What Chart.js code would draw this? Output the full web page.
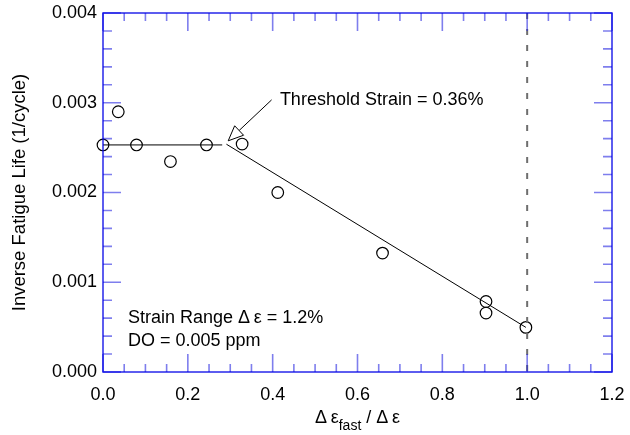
<!DOCTYPE html>
<html>
<head>
<meta charset="utf-8">
<script src="https://cdn.jsdelivr.net/npm/chart.js@4.4.1/dist/chart.umd.min.js"></script>
<style>
  html, body { margin: 0; padding: 0; background: #fff; }
  #wrap { width: 630px; height: 435px; }
</style>
</head>
<body>
<div id="wrap"><canvas id="fatigueChart" width="630" height="435"></canvas></div>
<script>
// Данные
const ratioFast = [0.0, 0.036, 0.079, 0.159, 0.244, 0.328, 0.412, 0.659, 0.903, 0.903, 0.997];
const inverseLife = [0.00253, 0.00290, 0.00253, 0.002345, 0.00253, 0.00254, 0.00200, 0.001325, 0.000786, 0.000657, 0.000497];

// Линии аппроксимации
const flatFitX = [0.0, 0.281];
const flatFitY = [0.00253, 0.00253];
const slopeFitX = [0.291, 0.997];
const slopeFitY = [0.002538, 0.000497];

// Вертикальная пунктирная линия при Δε_fast/Δε = 1
const fullFastX = [1.0, 1.0];
const fullFastY = [0.004, 0.0];

// Стрелка-указатель порога (хвост -> острие)
const arrowTail = [0.3975, 0.003032];
const arrowTip = [0.2952, 0.002576];

// Подписи
const thresholdLabel = 'Threshold Strain = 0.36%';
const noteLines = ['Strain Range \u0394\u2009\u03B5 = 1.2%', 'DO = 0.005 ppm'];
const yTitle = 'Inverse Fatigue Life (1/cycle)';

const FONT = "'Liberation Sans', Arial, Helvetica, sans-serif";
const AXIS_BLUE = 'rgba(0, 0, 230, 0.85)';
const TICK_BLUE = 'rgba(40, 40, 225, 0.6)';

const toXY = (xs, ys) => xs.map((x, i) => ({ x: x, y: ys[i] }));

// Рамка с тиками внутрь по всем четырём сторонам
const framePlugin = {
    id: 'frame',
    afterDatasetsDraw(chart) {
        const { ctx, chartArea: a, scales: { x, y } } = chart;
        ctx.save();
        ctx.strokeStyle = TICK_BLUE;
        ctx.lineWidth = 1.6;
        ctx.beginPath();
        for (let i = 0; i <= 24; i++) {
            const px = x.getPixelForValue(i * 0.05);
            const len = i % 4 === 0 ? 18 : 8;
            ctx.moveTo(px, a.bottom); ctx.lineTo(px, a.bottom - len);
            ctx.moveTo(px, a.top); ctx.lineTo(px, a.top + len);
        }
        for (let i = 0; i <= 20; i++) {
            const py = y.getPixelForValue(i * 0.0002);
            const len = i % 5 === 0 ? 18 : 9;
            ctx.moveTo(a.left, py); ctx.lineTo(a.left + len, py);
            ctx.moveTo(a.right, py); ctx.lineTo(a.right - len, py);
        }
        ctx.stroke();
        ctx.strokeStyle = AXIS_BLUE;
        ctx.lineWidth = 1.5;
        ctx.strokeRect(a.left, a.top, a.right - a.left, a.bottom - a.top);
        ctx.restore();
    }
};

// Надписи, стрелка и подпись оси X с индексом
const notesPlugin = {
    id: 'notes',
    afterDraw(chart) {
        const { ctx, chartArea: a, scales: { x, y } } = chart;
        ctx.save();
        ctx.fillStyle = '#000';
        ctx.textBaseline = 'alphabetic';
        ctx.textAlign = 'left';
        ctx.font = '18px ' + FONT;

        ctx.fillText(thresholdLabel, x.getPixelForValue(0.417), y.getPixelForValue(0.002977));
        ctx.fillText(noteLines[0], x.getPixelForValue(0.059), y.getPixelForValue(0.000546));
        ctx.fillText(noteLines[1], x.getPixelForValue(0.059), y.getPixelForValue(0.000286));

        // стрелка с полым наконечником
        const tx = x.getPixelForValue(arrowTail[0]), ty = y.getPixelForValue(arrowTail[1]);
        const hx = x.getPixelForValue(arrowTip[0]), hy = y.getPixelForValue(arrowTip[1]);
        const dx = tx - hx, dy = ty - hy, d = Math.hypot(dx, dy);
        const ux = dx / d, uy = dy / d;
        const bx = hx + ux * 15, by = hy + uy * 15;
        ctx.strokeStyle = '#000';
        ctx.lineWidth = 1;
        ctx.beginPath();
        ctx.moveTo(tx, ty); ctx.lineTo(bx, by);
        ctx.stroke();
        ctx.beginPath();
        ctx.moveTo(hx, hy);
        ctx.lineTo(bx - uy * 6.5, by + ux * 6.5);
        ctx.lineTo(bx + uy * 6.5, by - ux * 6.5);
        ctx.closePath();
        ctx.fillStyle = '#fff';
        ctx.fill();
        ctx.stroke();

        // подпись оси X: Δ ε_fast / Δ ε
        ctx.fillStyle = '#000';
        const big = '18px ' + FONT, small = '14px ' + FONT;
        const p1 = '\u0394\u2009\u03B5', p2 = 'fast', p3 = ' / \u0394\u2009\u03B5';
        ctx.font = big; const w1 = ctx.measureText(p1).width, w3 = ctx.measureText(p3).width;
        ctx.font = small; const w2 = ctx.measureText(p2).width;
        const cx = (a.left + a.right) / 2;
        let sx = cx - (w1 + w2 + w3) / 2;
        const base = 423;
        ctx.font = big; ctx.fillText(p1, sx, base); sx += w1;
        ctx.font = small; ctx.fillText(p2, sx, base + 7); sx += w2;
        ctx.font = big; ctx.fillText(p3, sx, base);
        ctx.restore();
    }
};

new Chart(document.getElementById('fatigueChart').getContext('2d'), {
    type: 'scatter',
    data: {
        datasets: [
            {
                data: toXY(fullFastX, fullFastY),
                showLine: true,
                borderColor: '#6e6e6e',
                borderWidth: 2,
                borderDash: [6, 10],
                pointRadius: 0,
                clip: false
            },
            {
                data: toXY(flatFitX, flatFitY),
                showLine: true,
                borderColor: '#000',
                borderWidth: 1,
                pointRadius: 0
            },
            {
                data: toXY(slopeFitX, slopeFitY),
                showLine: true,
                borderColor: '#000',
                borderWidth: 1,
                pointRadius: 0
            },
            {
                data: toXY(ratioFast, inverseLife),
                showLine: false,
                pointRadius: 5.8,
                pointBorderWidth: 1.2,
                pointBorderColor: '#000',
                pointBackgroundColor: 'rgba(0,0,0,0)',
                clip: false
            }
        ]
    },
    options: {
        responsive: false,
        animation: false,
        devicePixelRatio: 1,
        layout: { padding: { top: 13, right: 18, left: 0, bottom: 0 } },
        plugins: { legend: { display: false }, tooltip: { enabled: false } },
        scales: {
            x: {
                type: 'linear',
                min: 0, max: 1.2,
                afterFit(scale) {
                    scale.height = 63;
                    scale.paddingLeft = 0;
                    scale.paddingRight = 0;
                },
                grid: { display: false, drawTicks: false },
                border: { display: false },
                ticks: {
                    stepSize: 0.2,
                    padding: 12,
                    color: '#000',
                    font: { family: FONT, size: 18 },
                    callback: v => v.toFixed(1)
                }
            },
            y: {
                type: 'linear',
                min: 0, max: 0.004,
                afterFit(scale) {
                    scale.width = 103;
                    scale.paddingTop = 0;
                    scale.paddingBottom = 0;
                },
                grid: { display: false, drawTicks: false },
                border: { display: false },
                ticks: {
                    stepSize: 0.001,
                    padding: 6,
                    color: '#000',
                    font: { family: FONT, size: 18 },
                    callback: v => v.toFixed(3)
                },
                title: {
                    display: true,
                    text: yTitle,
                    color: '#000',
                    font: { family: FONT, size: 18.5 },
                    padding: { top: 9, bottom: 0 }
                }
            }
        }
    },
    plugins: [framePlugin, notesPlugin]
});
</script>
</body>
</html>
